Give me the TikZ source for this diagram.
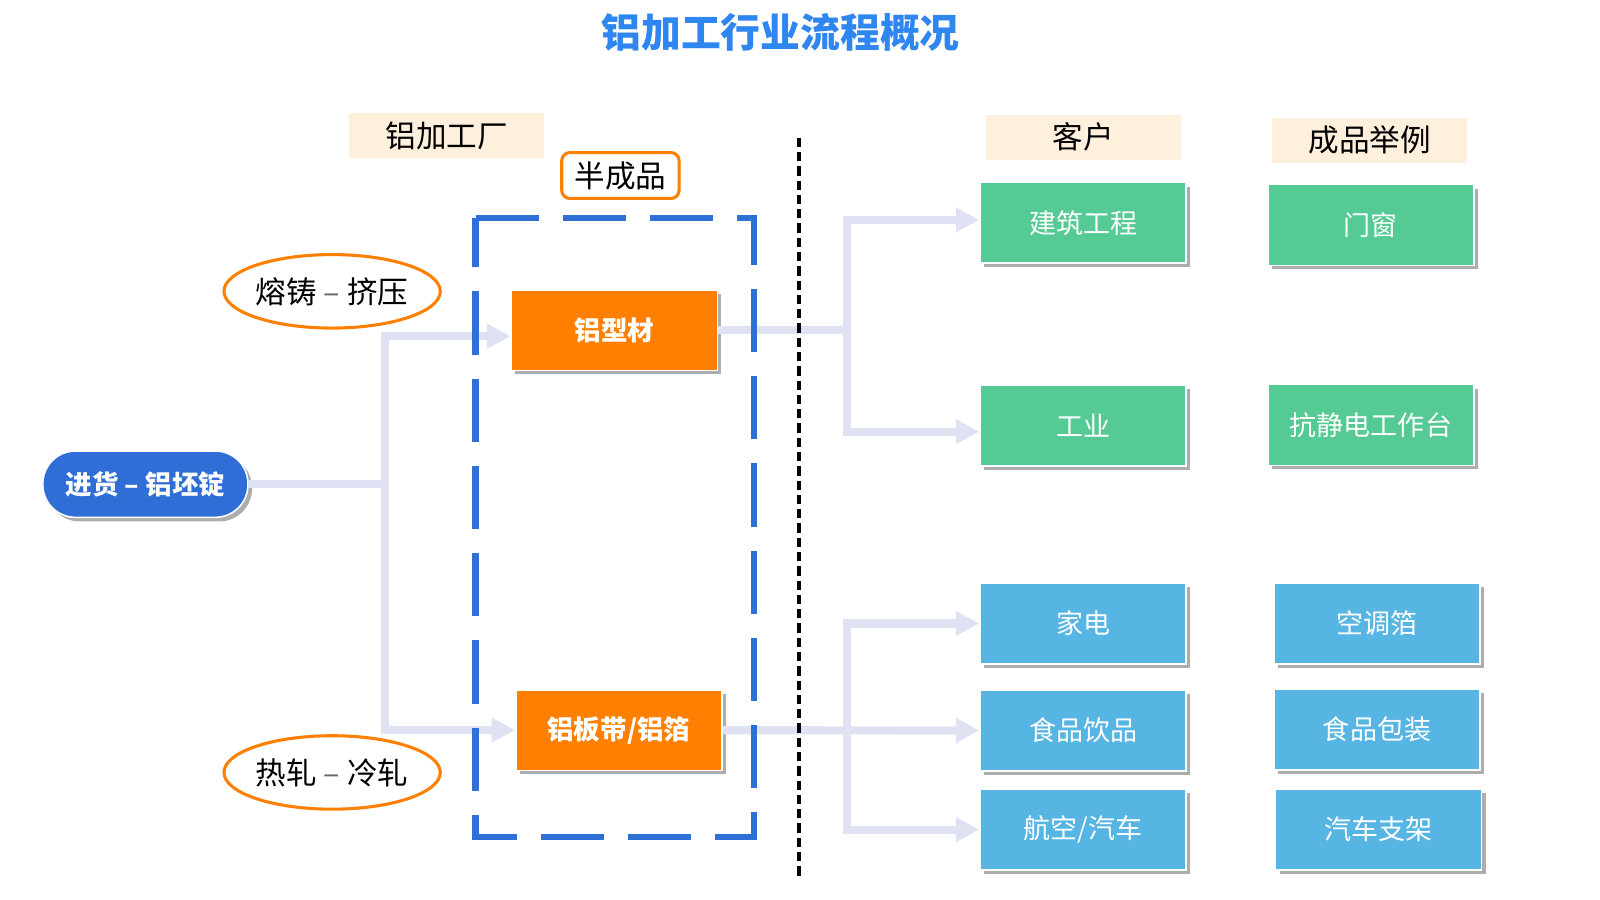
\documentclass[tikz,border=0pt]{standalone}
\usepackage{fontspec}
\newfontfamily\cjk{Noto Sans CJK SC}
\usetikzlibrary{shapes.geometric,shadows,arrows.meta}
\definecolor{titleblue}{RGB}{46,134,240}
\definecolor{dashblue}{RGB}{46,112,214}
\definecolor{pillblue}{RGB}{47,110,214}
\definecolor{orange1}{RGB}{255,128,0}
\definecolor{green1}{RGB}{85,202,149}
\definecolor{blue1}{RGB}{87,181,227}
\definecolor{beige}{RGB}{255,240,221}
\definecolor{lineg}{RGB}{222,226,242}
\begin{document}
\begin{tikzpicture}[x=1pt,y=-1pt,font=\cjk,
	box/.style={rectangle,minimum width=202pt,minimum height=79pt,inner sep=0pt,draw=white,line width=1.5pt,text=white,font=\cjk\fontsize{26.5}{30}\selectfont,drop shadow={shadow xshift=4pt,shadow yshift=-4pt,fill=black!32,opacity=1}},
	lvse/.style={box,fill=green1},
	lanse/.style={box,fill=blue1},
	chengse/.style={box,fill=orange1,font=\cjk\bfseries\fontsize{26}{30}\selectfont},
	biaotou/.style={fill=beige,minimum width=191pt,minimum height=44pt,inner sep=0pt,font=\cjk\fontsize{30}{32}\selectfont},
	gongyi/.style={ellipse,draw=orange1,line width=3pt,fill=white,minimum width=212pt,minimum height=72pt,inner sep=0pt,font=\cjk\fontsize{30}{32}\selectfont},
	lianxian/.style={draw=lineg,line width=8pt},
	jiantou/.style={lianxian,-{Triangle[length=23pt,width=23pt]}}]
		\useasboundingbox[fill=white] (0,0) rectangle (1568,882);
		%标题与表头
		\draw (765,32) node[text=titleblue,font=\cjk\bfseries\fontsize{39}{44}\selectfont](title){铝加工行业流程概况};
		\draw (438,133) node[biaotou](h-1){铝加工厂} (1061.5,134.5) node[biaotou](h-2){客户} (1342.5,137.5) node[biaotou](h-3){成品举例};
		\draw (608,172) node[draw=orange1,line width=3pt,rounded corners=8pt,minimum width=115pt,minimum height=45pt,inner sep=0pt,font=\cjk\fontsize{30}{32}\selectfont](h-4){半成品};
		%铝加工厂
		\draw (142.5,474.5) node[box,fill=pillblue,rounded corners=32pt,minimum width=201pt,minimum height=65pt,font=\cjk\bfseries\fontsize{26}{30}\selectfont](s-0){进货 – 铝坯锭};
		\draw (325.5,285.5) node[gongyi](g-1){熔铸 {\color{black!60}–} 挤压} (325.5,757) node[gongyi](g-2){热轧 {\color{black!60}–} 冷轧};
		\draw (602,323.5) node[chengse](b-1){铝型材} (606.5,715.5) node[chengse](b-2){铝板带/铝箔};
		%客户与成品
		\draw (1061.5,218.5) node[lvse](k-1){建筑工程} (1343.5,220.5) node[lvse](e-1){门窗};
		\draw (1061.5,417) node[lvse](k-2){工业} (1343.5,416.5) node[lvse](e-2){抗静电工作台};
		\draw (1061.5,611) node[lanse](k-3){家电} (1349.5,611) node[lanse](e-3){空调箔};
		\draw (1061.5,716) node[lanse](k-4){食品饮品} (1349.5,715) node[lanse](e-4){食品包装};
		\draw (1061.5,813) node[lanse](k-5){航空/汽车} (1351,813) node[lanse](e-5){汽车支架};
		%连线
		\coordinate (f-1) at (377,474.5);
		\coordinate (f-2) at (830,323.5);
		\coordinate (f-3) at (830,716);
		\draw[lianxian] (s-0) -- (f-1);
		\draw[jiantou] (f-1) |- ([yshift=-6pt]b-1.west);
		\draw[jiantou] (f-1) |- (b-2);
		\draw[lianxian] (b-1) -- (f-2);
		\draw[jiantou] (f-2) |- ([yshift=3pt]k-1.west);
		\draw[jiantou] (f-2) |- ([yshift=-6pt]k-2.west);
		\draw[jiantou] (b-2) -- (k-4);
		\draw[jiantou] (f-3) |- (k-3);
		\draw[jiantou] (f-3) |- (k-5);
		%分界
		\draw[dashblue,line width=6pt,dash pattern=on 62pt off 23.5pt] (466,214) -- (739,214) -- (739,820) -- (466,820) -- cycle;
		\draw[line width=3pt,dash pattern=on 9pt off 5pt] (783,135) -- (783,860);
	\end{tikzpicture}
\end{document}
